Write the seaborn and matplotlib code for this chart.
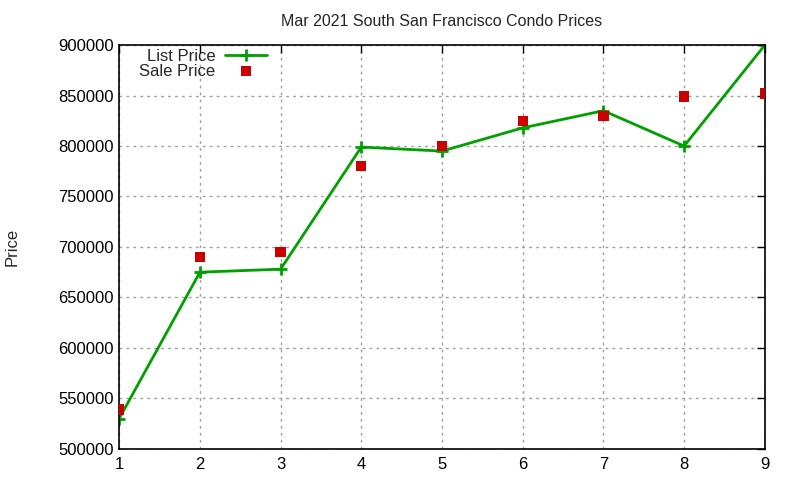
import pandas as pd
import seaborn as sns
import matplotlib.pyplot as plt

# data
months = [1, 2, 3, 4, 5, 6, 7, 8, 9]
list_price = [530000, 675000, 678000, 799000, 795000, 818000, 835000, 800000, 900000]
sale_price = [539000, 690000, 695000, 780000, 800000, 825000, 830000, 849000, 852000]

df = pd.DataFrame({'n': months, 'List Price': list_price, 'Sale Price': sale_price})

sns.set_theme(style="white")
plt.rcParams['font.family'] = ['Liberation Sans', 'DejaVu Sans']

fig = plt.figure(figsize=(8, 4.8), dpi=100)
ax = fig.add_axes([0.149, 0.065, 0.807, 0.841])

sns.lineplot(data=df, x='n', y='List Price', ax=ax, color='#00a000', linewidth=2,
             marker='+', markersize=9, markeredgewidth=2, markeredgecolor='#00a000',
             label='List Price')
sns.scatterplot(data=df, x='n', y='Sale Price', ax=ax, color='#cc0000', marker='s',
                s=55, edgecolor='none', label='Sale Price', zorder=3)

ax.set_xlim(1, 9)
ax.set_ylim(500000, 900000)
ax.set_xticks(months)
ax.set_yticks(range(500000, 900001, 50000))
ax.ticklabel_format(axis='y', style='plain', useOffset=False)
ax.grid(True, color='#a0a0a0', linestyle=(0, (2, 3)), linewidth=1)
ax.tick_params(direction='in', length=6, width=1, top=True, right=True,
               labelsize=12, colors='black', pad=4)
ax.tick_params(axis='x', pad=6)
for s in ax.spines.values():
    s.set_color('black')
    s.set_linewidth(1.2)

ax.set_xlabel('')
ax.set_ylabel('Price', fontsize=12, va='center')
ax.yaxis.set_label_coords(-0.166, 0.5)
ax.set_title('Mar 2021 South San Francisco Condo Prices', fontsize=11.5, pad=14)

ax.legend(loc='upper left', bbox_to_anchor=(0.013, 1.02), frameon=False, markerfirst=False,
          fontsize=12, handlelength=2.5, handletextpad=0.6, labelspacing=0.0,
          borderaxespad=0.3)

plt.savefig('out.png', dpi=100)
